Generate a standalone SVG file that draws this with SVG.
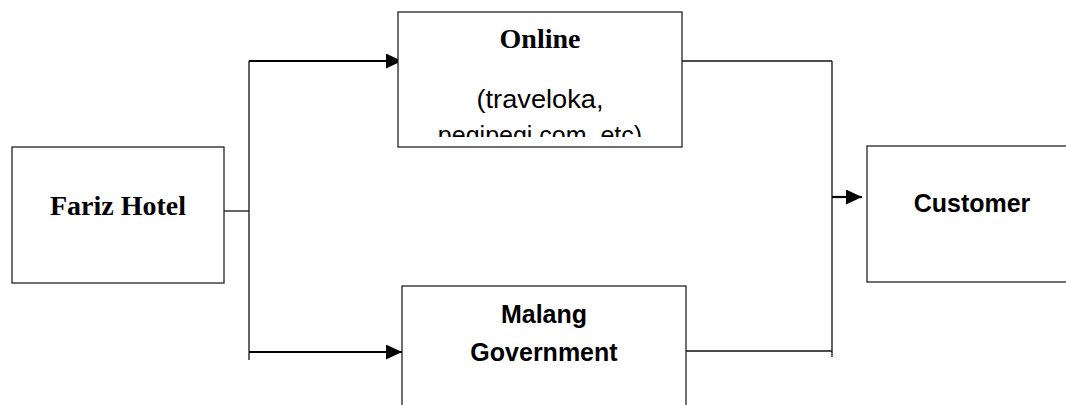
<svg xmlns="http://www.w3.org/2000/svg" width="1066" height="405" viewBox="0 0 1066 405">
<style>
.box{fill:#fff;stroke:#222;stroke-width:1.3}
.ser{font-family:"Liberation Serif",serif;font-weight:bold;font-size:28px;fill:#000}
.sans{font-family:"Liberation Sans",Arial,sans-serif;fill:#000}
.ln{fill:none;stroke:#111;stroke-width:1.3}
.arr{fill:none;stroke:#000;stroke-width:2.2}
</style>
<defs>
<marker id="ah" markerUnits="userSpaceOnUse" markerWidth="16" markerHeight="15" refX="16" refY="7.5" orient="auto">
<path d="M0,0 L16,7.5 L0,15 z" fill="#000"/>
</marker>
<clipPath id="clipOnline"><rect x="398" y="12" width="284" height="125"/></clipPath>
</defs>
<g id="connectors">
<path class="ln" d="M218,211 H249"/>
<path class="ln" d="M249,61 V360"/>
<path class="arr" d="M249,61 H402" marker-end="url(#ah)"/>
<path class="arr" d="M249,352 H402" marker-end="url(#ah)"/>
<path class="ln" d="M682,61 H832"/>
<path class="ln" d="M686,351 H832"/>
<path class="ln" d="M832,61 V357"/>
<path class="arr" d="M832,197 H862" marker-end="url(#ah)"/>
</g>
<g id="fariz">
<rect class="box" x="12" y="147" width="212" height="136"/>
<text class="ser" x="118" y="215" text-anchor="middle">Fariz Hotel</text>
</g>
<g id="online">
<rect class="box" x="398" y="12" width="284" height="135"/>
<text class="ser" x="540" y="48" text-anchor="middle">Online</text>
<g clip-path="url(#clipOnline)">
<text class="sans" x="540" y="108" text-anchor="middle" font-size="25" textLength="127" lengthAdjust="spacingAndGlyphs">(traveloka,</text>
<text class="sans" x="540" y="143.5" text-anchor="middle" font-size="25">pegipegi.com, etc)</text>
</g>
</g>
<g id="malang">
<rect class="box" x="402" y="286" width="284" height="130"/>
<text class="sans" x="544" y="323" text-anchor="middle" font-size="25" font-weight="bold">Malang</text>
<text class="sans" x="544" y="361" text-anchor="middle" font-size="25" font-weight="bold">Government</text>
</g>
<g id="customer">
<rect class="box" x="867" y="146" width="210" height="136"/>
<text class="sans" x="972" y="212" text-anchor="middle" font-size="25" font-weight="bold">Customer</text>
</g>
</svg>
